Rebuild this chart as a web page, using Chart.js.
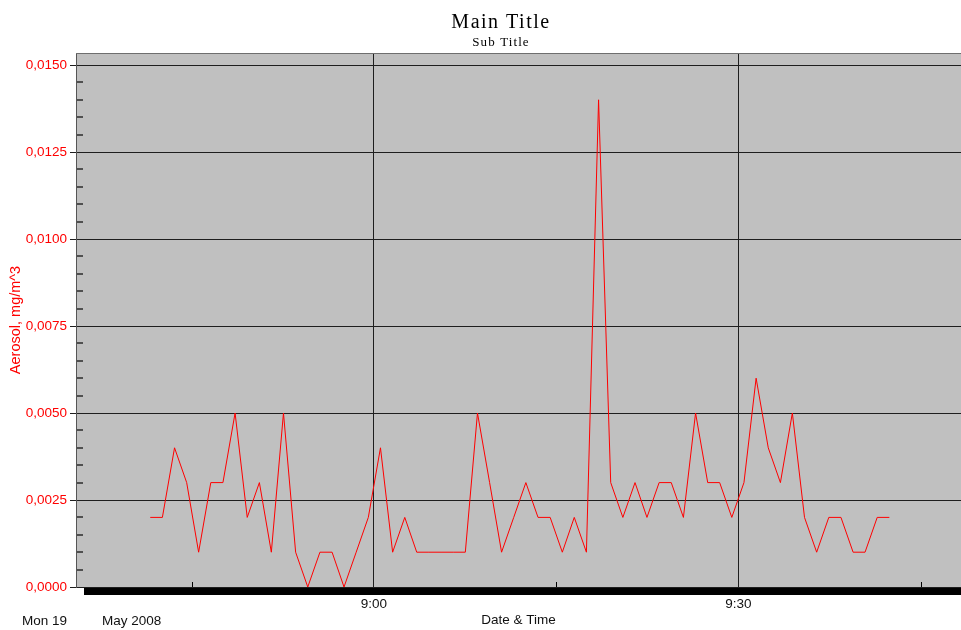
<!DOCTYPE html>
<html>
<head>
<meta charset="utf-8">
<script src="https://cdn.jsdelivr.net/npm/chart.js@4.4.1/dist/chart.umd.min.js"></script>
<style>
  html, body { margin: 0; padding: 0; background: #ffffff; }
  canvas { display: block; }
</style>
</head>
<body>
<canvas id="chart" width="961" height="630"></canvas>
<script>
// Aerosol logger readings, Mon 19 May 2008 (about one sample per minute)
const sampleTimes = [
  '8:41:36', '8:42:36', '8:43:36', '8:44:36', '8:45:35', '8:46:35', '8:47:35', '8:48:35',
  '8:49:35', '8:50:35', '8:51:34', '8:52:34', '8:53:34', '8:54:34', '8:55:34', '8:56:34',
  '8:57:33', '8:58:33', '8:59:33', '9:00:33', '9:01:33', '9:02:33', '9:03:32', '9:04:32',
  '9:05:32', '9:06:32', '9:07:32', '9:08:32', '9:09:32', '9:10:31', '9:11:31', '9:12:31',
  '9:13:31', '9:14:31', '9:15:31', '9:16:30', '9:17:30', '9:18:30', '9:19:30', '9:20:30',
  '9:21:30', '9:22:29', '9:23:29', '9:24:29', '9:25:29', '9:26:29', '9:27:29', '9:28:28',
  '9:29:28', '9:30:28', '9:31:28', '9:32:28', '9:33:28', '9:34:27', '9:35:27', '9:36:27',
  '9:37:27', '9:38:27', '9:39:27', '9:40:26', '9:41:26', '9:42:26'
];
const aerosolValues = [
  0.002, 0.002, 0.004, 0.003, 0.001, 0.003, 0.003, 0.005,
  0.002, 0.003, 0.001, 0.005, 0.001, 0.000, 0.001, 0.001,
  0.000, 0.001, 0.002, 0.004, 0.001, 0.002, 0.001, 0.001,
  0.001, 0.001, 0.001, 0.005, 0.003, 0.001, 0.002, 0.003,
  0.002, 0.002, 0.001, 0.002, 0.001, 0.014, 0.003, 0.002,
  0.003, 0.002, 0.003, 0.003, 0.002, 0.005, 0.003, 0.003,
  0.002, 0.003, 0.006, 0.004, 0.003, 0.005, 0.002, 0.001,
  0.002, 0.002, 0.001, 0.001, 0.002, 0.002
];
const yTickValues = [0, 0.0025, 0.005, 0.0075, 0.01, 0.0125, 0.015];
const xTickTimes = ['8:45', '9:00', '9:15', '9:30', '9:45'];
const xLabelledTimes = ['9:00', '9:30'];
const dateLabels = ['Mon 19', 'May 2008'];
const mainTitle = 'Main Title';
const subTitle = 'Sub Title';
const yTitle = 'Aerosol, mg/m^3';
const xTitle = 'Date & Time';

function toMinutes(t) {
  const p = t.split(':').map(Number);
  return p[0] * 60 + p[1] + (p[2] || 0) / 60;
}
function formatTime(m) {
  const h = Math.floor(m / 60);
  const mm = Math.round(m - h * 60);
  return h + ':' + String(mm).padStart(2, '0');
}
function formatValue(v) {
  return v.toFixed(4).replace('.', ',');
}

const SANS = '"Liberation Sans", Arial, sans-serif';
const SERIF = '"Liberation Serif", "Times New Roman", serif';
const GRID = '#1e1e1e';

// Grey plot panel, inner minor ticks, heavy time bar and the header texts
const panelDecor = {
  id: 'panelDecor',
  beforeDraw(chart) {
    const { ctx, chartArea: a } = chart;
    ctx.save();
    ctx.fillStyle = '#c0c0c0';
    ctx.fillRect(a.left, a.top, a.right - a.left, a.bottom - a.top);
    ctx.restore();
  },
  afterDraw(chart) {
    const { ctx, chartArea: a, scales: { x, y } } = chart;
    ctx.save();

    // upper edge of the panel
    ctx.fillStyle = '#6e6e6e';
    ctx.fillRect(a.left, a.top, a.right - a.left, 1);

    // minor value ticks every 0.0005, inside the panel
    ctx.fillStyle = '#505050';
    for (let k = 1; k / 2000 < y.max; k++) {
      if (k % 5 === 0) continue;
      const py = Math.round(y.getPixelForValue(k / 2000));
      ctx.fillRect(a.left + 1, py - 1, 6, 2);
    }

    // heavy time bar under the panel
    ctx.fillStyle = '#000000';
    ctx.fillRect(a.left + 8, a.bottom + 1, a.right - a.left - 8, 7);

    // quarter-hour ticks without grid lines
    xTickTimes.filter(t => !xLabelledTimes.includes(t)).forEach(t => {
      const px = Math.round(x.getPixelForValue(toMinutes(t)));
      ctx.fillRect(px, a.bottom - 5, 1, 5);
    });

    // date under the axis
    ctx.fillStyle = '#111111';
    ctx.font = '13.5px ' + SANS;
    ctx.textAlign = 'left';
    ctx.textBaseline = 'alphabetic';
    ctx.fillText(dateLabels[0], 22, 625);
    ctx.fillText(dateLabels[1], 102, 625);

    // titles
    ctx.fillStyle = '#000000';
    ctx.textAlign = 'center';
    ctx.font = '20px ' + SERIF;
    ctx.letterSpacing = '1.5px';
    ctx.fillText(mainTitle, 501, 28);
    ctx.font = '13px ' + SERIF;
    ctx.letterSpacing = '1.1px';
    ctx.fillText(subTitle, 501, 46);
    ctx.restore();
  }
};

new Chart(document.getElementById('chart'), {
  type: 'line',
  data: {
    datasets: [{
      label: yTitle,
      data: sampleTimes.map((t, i) => ({ x: toMinutes(t), y: aerosolValues[i] })),
      borderColor: '#ff0000',
      borderWidth: 1,
      pointRadius: 0,
      tension: 0,
      fill: false
    }]
  },
  options: {
    responsive: false,
    devicePixelRatio: 1,
    animation: false,
    events: [],
    layout: { padding: { top: 53, left: 0, right: 0, bottom: 0 } },
    plugins: {
      legend: { display: false },
      tooltip: { enabled: false },
      title: { display: false }
    },
    scales: {
      x: {
        type: 'linear',
        bounds: 'data',
        min: 515.49,
        max: 588.33,
        afterBuildTicks: (s) => { s.ticks = xTickTimes.map(t => ({ value: toMinutes(t) })); },
        afterFit: (s) => { s.height = 43; },
        grid: {
          drawTicks: false,
          color: (c) => (c.tick && xLabelledTimes.includes(formatTime(c.tick.value))) ? GRID : 'rgba(0,0,0,0)',
          lineWidth: 1
        },
        border: { display: false },
        ticks: {
          autoSkip: false,
          maxRotation: 0,
          padding: 9,
          color: '#111111',
          font: { family: SANS, size: 13.5 },
          callback: (v) => {
            const t = formatTime(v);
            return xLabelledTimes.includes(t) ? t : '';
          }
        },
        title: {
          display: true,
          text: xTitle,
          color: '#111111',
          font: { family: SANS, size: 13.5 },
          padding: { top: 0, bottom: 2 }
        }
      },
      y: {
        type: 'linear',
        bounds: 'data',
        min: 0,
        max: 0.015345,
        afterBuildTicks: (s) => { s.ticks = yTickValues.map(v => ({ value: v })); },
        afterFit: (s) => { s.width = 76; },
        grid: {
          color: GRID,
          lineWidth: 1,
          drawTicks: true,
          tickLength: 6,
          tickColor: GRID
        },
        border: { display: true, color: '#555555', width: 1 },
        ticks: {
          padding: 3,
          color: '#ff0000',
          font: { family: SANS, size: 13.5 },
          callback: (v) => formatValue(v)
        },
        title: {
          display: true,
          text: yTitle,
          color: '#ff0000',
          font: { family: SANS, size: 14.5 },
          padding: { top: 7, bottom: 0 }
        }
      }
    }
  },
  plugins: [panelDecor]
});
</script>
</body>
</html>
